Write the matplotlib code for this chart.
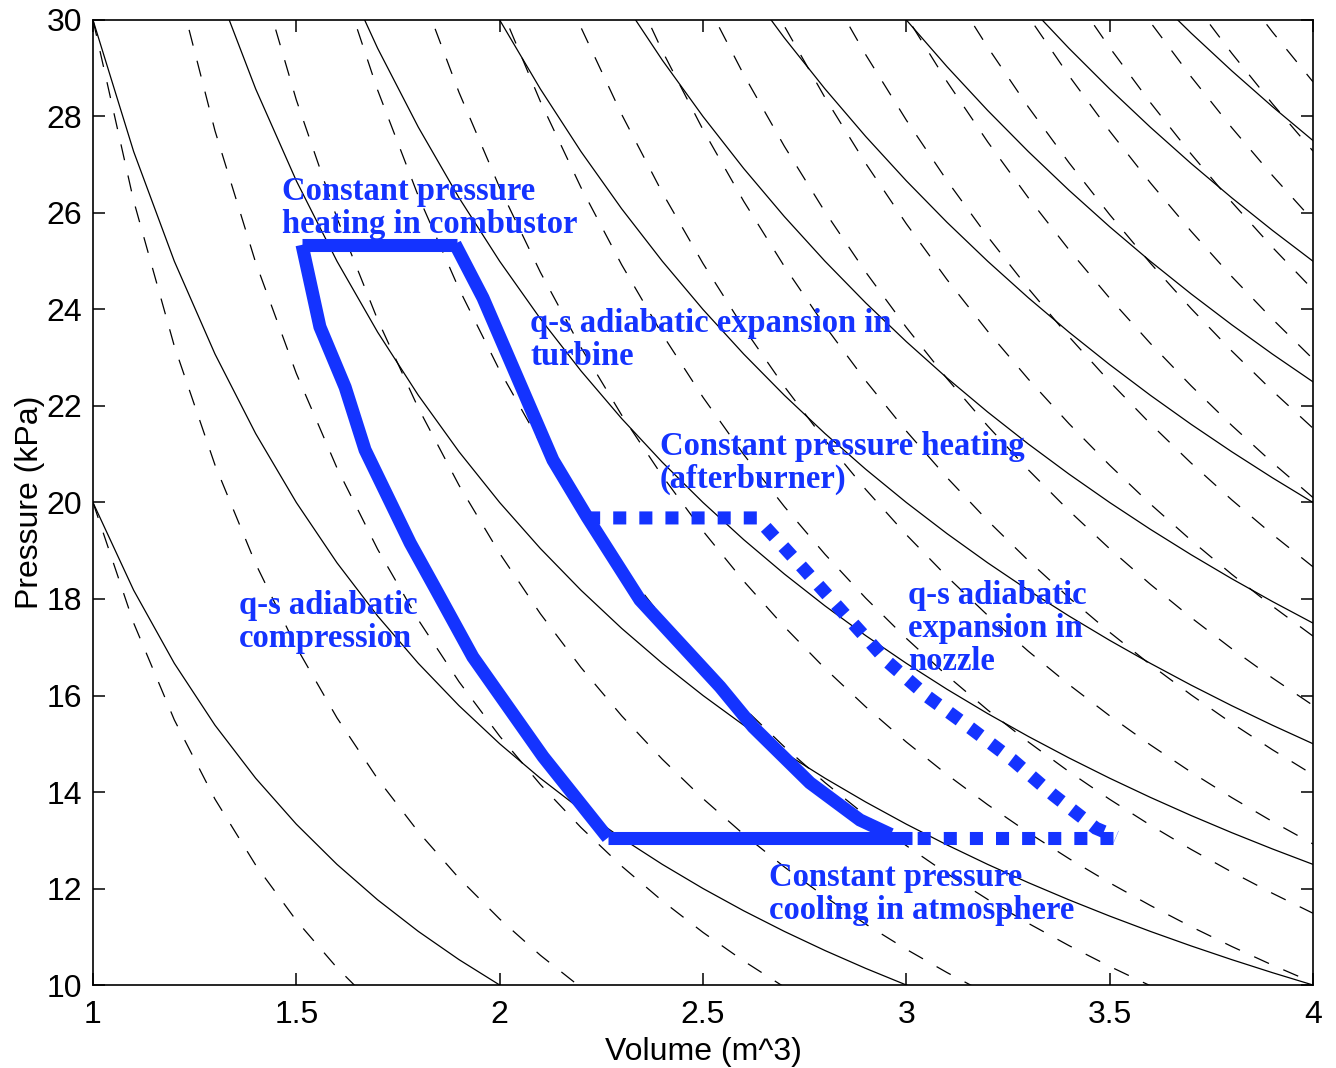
import numpy as np
import matplotlib
matplotlib.use('Agg')
import matplotlib.pyplot as plt

plt.rcParams['font.family'] = ['Liberation Sans', 'DejaVu Sans']

# background curves: isotherms P*V = c (solid), adiabats P*V^gamma = k (dashed)
iso_c = [10, 20, 30, 40, 50, 60, 70, 80, 90, 100, 110, 120]
adi_k = [10, 20, 30, 40, 50, 60, 70, 80, 90, 100, 110, 120, 130, 140, 150,
         160, 170, 180, 190, 200, 210]
gamma = 1.4
v_grid = np.arange(1.0, 4.0001, 0.1)

# cycle (V in m^3, P in kPa)
comp_v = [2.266, 2.107, 1.934, 1.841, 1.780, 1.669, 1.620, 1.558, 1.514]
comp_p = [13.05, 14.73, 16.80, 18.23, 19.16, 21.09, 22.39, 23.64, 25.34]

comb_v = [1.514, 1.895]
comb_p = [25.34, 25.34]

turb_v = [1.890, 1.959, 2.131, 2.215, 2.345, 2.542, 2.623, 2.763, 2.886, 2.962]
turb_p = [25.36, 24.24, 20.88, 19.70, 17.98, 16.18, 15.35, 14.19, 13.42, 13.12]

cool_v = [2.266, 3.013]
cool_p = [13.04, 13.04]

# afterburner + nozzle (dotted)
noz_v = [2.215, 2.633, 2.734, 2.866, 2.955, 3.053, 3.157, 3.262, 3.361, 3.466, 3.516]
noz_p = [19.68, 19.68, 18.75, 17.52, 16.69, 15.97, 15.33, 14.66, 13.94, 13.25, 13.07]

exh_v = [3.508, 3.013]
exh_p = [13.04, 13.04]

# (x, baseline of last line, text)
labels = [
    (1.465, 25.585, 'Constant pressure\nheating in combustor'),
    (2.075, 22.85, 'q-s adiabatic expansion in\nturbine'),
    (2.394, 20.30, 'Constant pressure heating\n(afterburner)'),
    (3.004, 16.53, 'q-s adiabatic\nexpansion in\nnozzle'),
    (1.359, 17.005, 'q-s adiabatic\ncompression'),
    (2.662, 11.37, 'Constant pressure\ncooling in atmosphere'),
]

blue = '#1433ff'

fig = plt.figure(figsize=(13.36, 10.68), dpi=100)
ax = fig.add_axes([0.0696, 0.0777, 0.9132, 0.9036])

for c in iso_c:
    ax.plot(v_grid, c / v_grid, color='k', lw=0.9)
for k in adi_k:
    ax.plot(v_grid, k / v_grid ** gamma, color='k', lw=0.9,
            linestyle=(0, (13, 12.5)))

thick = 9.4
for vv, pp in [(comp_v, comp_p), (comb_v, comb_p), (turb_v, turb_p), (cool_v, cool_p)]:
    ax.plot(vv, pp, color=blue, lw=thick, solid_capstyle='butt', solid_joinstyle='miter')
for vv, pp in [(noz_v, noz_p), (exh_v, exh_p)]:
    ax.plot(vv, pp, color=blue, lw=thick, linestyle=(0, (1, 1)),
            dash_capstyle='butt', dash_joinstyle='miter')

for x, y, s in labels:
    ax.text(x, y, s, color=blue, fontsize=23.5, fontweight='bold',
            family=['Liberation Serif', 'DejaVu Serif'], va='baseline',
            ha='left', linespacing=1.08)

ax.set_xlim(1, 4)
ax.set_ylim(10, 30)
ax.set_xticks([1, 1.5, 2, 2.5, 3, 3.5, 4])
ax.set_xticklabels(['1', '1.5', '2', '2.5', '3', '3.5', '4'])
ax.set_yticks(range(10, 31, 2))
ax.tick_params(direction='in', length=8.5, width=1.1, top=True, right=True,
               labelsize=23)
ax.tick_params(axis='x', pad=11)
ax.tick_params(axis='y', pad=8)
for sp in ax.spines.values():
    sp.set_linewidth(1.2)
ax.set_xlabel('Volume (m^3)', fontsize=23, labelpad=5)
ax.set_ylabel('Pressure (kPa)', fontsize=23, labelpad=1)

fig.savefig('out.png', dpi=100)
